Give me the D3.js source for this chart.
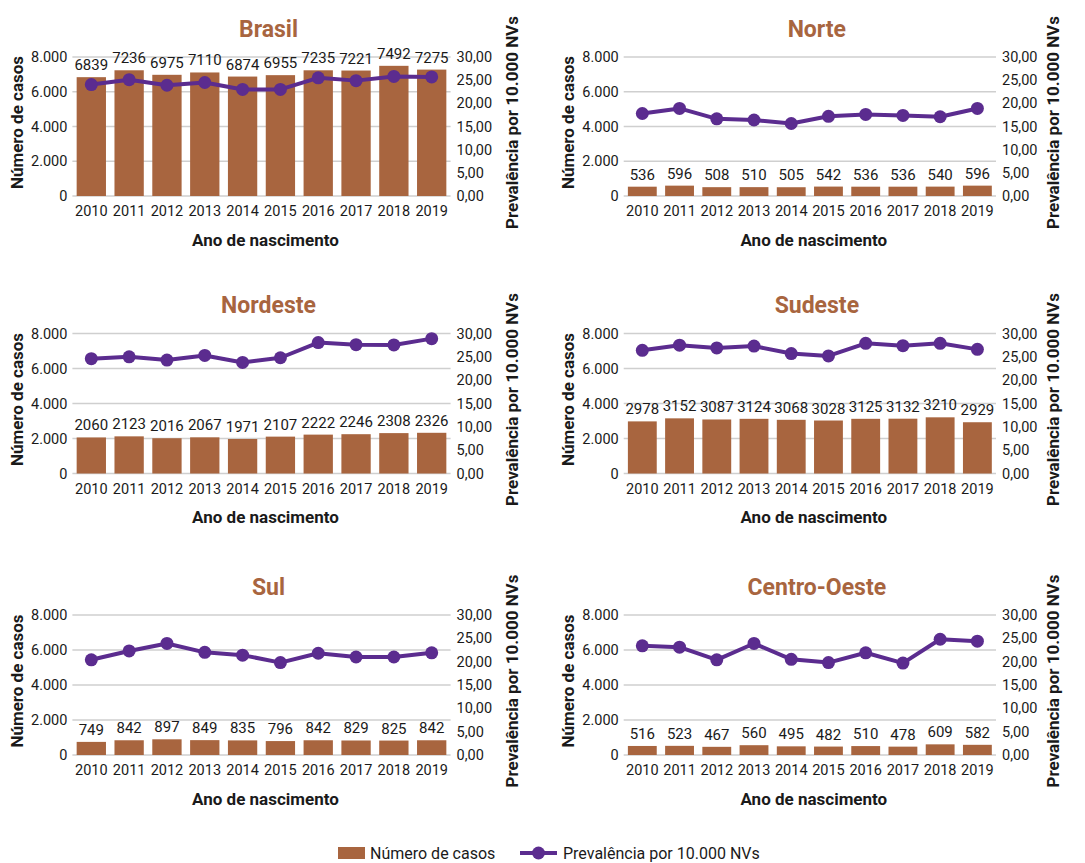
<!DOCTYPE html>
<html><head><meta charset="utf-8">
<script src="https://cdn.jsdelivr.net/npm/d3@7"></script>
<style>
body{margin:0;background:#fff;}
text{font-family:Roboto,"Noto Sans",sans-serif;fill:#1a1a1a;}
</style></head>
<body><svg id="c" width="1085" height="863"></svg>
<script>
const years = ["2010","2011","2012","2013","2014","2015","2016","2017","2018","2019"];
const regions = ["Brasil","Norte","Nordeste","Sudeste","Sul","Centro-Oeste"];
const casesBrasil   = [6839,7236,6975,7110,6874,6955,7235,7221,7492,7275];
const casesNorte    = [536,596,508,510,505,542,536,536,540,596];
const casesNordeste = [2060,2123,2016,2067,1971,2107,2222,2246,2308,2326];
const casesSudeste  = [2978,3152,3087,3124,3068,3028,3125,3132,3210,2929];
const casesSul      = [749,842,897,849,835,796,842,829,825,842];
const casesCO       = [516,523,467,560,495,482,510,478,609,582];
const prevBrasil   = [24.05,25.1,23.9,24.5,23.0,23.0,25.5,24.9,25.8,25.7];
const prevNorte    = [17.8,18.9,16.65,16.4,15.65,17.2,17.6,17.4,17.1,18.9];
const prevNordeste = [24.6,25.0,24.3,25.3,23.8,24.8,28.05,27.6,27.55,28.9];
const prevSudeste  = [26.4,27.5,26.9,27.3,25.7,25.2,27.9,27.4,27.9,26.6];
const prevSul      = [20.4,22.3,23.9,22.0,21.4,19.8,21.8,21.0,21.0,21.9];
const prevCO       = [23.4,23.1,20.4,23.9,20.5,19.8,21.9,19.7,24.8,24.4];
const leftTicks  = [0,2000,4000,6000,8000];
const rightTicks = [0,5,10,15,20,25,30];
const xTitle = "Ano de nascimento";
const yLeftTitle = "Número de casos";
const yRightTitle = "Prevalência por 10.000 NVs";
const legendLabels = ["Número de casos","Prevalência por 10.000 NVs"];

const casesAll = [casesBrasil,casesNorte,casesNordeste,casesSudeste,casesSul,casesCO];
const prevAll  = [prevBrasil,prevNorte,prevNordeste,prevSudeste,prevSul,prevCO];

const BAR = "#a8653f", LINE = "#5b2c8f", GRID = "#cfcfcf";
const loc = d3.formatLocale({decimal:",",thousands:".",grouping:[3],currency:["R$",""]});
const fmtL = loc.format(",.0f"), fmtR = loc.format(",.2f");

const cols = [{l:72.4,r:450.6,rt:61},{l:623.7,r:996,rt:57}];
const rows = [{t:57,b:196},{t:333.5,b:473.5},{t:615,b:755}];

const svg = d3.select("#c");

regions.forEach((name,i)=>{
  const c = cols[i%2], rw = rows[Math.floor(i/2)];
  const g = svg.append("g");
  const x = d3.scaleBand().domain(years).range([c.l,c.r]).paddingInner(0.225).paddingOuter(0.1125);
  const y = d3.scaleLinear().domain([0,8000]).range([rw.b,rw.t]);
  const y2 = d3.scaleLinear().domain([0,30]).range([rw.b,rw.t]);
  g.selectAll(".gl").data(leftTicks).join("line")
    .attr("x1",c.l).attr("x2",c.r).attr("y1",d=>y(d)).attr("y2",d=>y(d))
    .attr("stroke",GRID).attr("stroke-width",1.5);
  const al = g.append("g").attr("transform",`translate(${c.l},0)`)
    .call(d3.axisLeft(y).tickValues(leftTicks).tickFormat(fmtL).tickSize(0).tickPadding(5));
  const ar = g.append("g").attr("transform",`translate(${c.r},0)`)
    .call(d3.axisRight(y2).tickValues(rightTicks).tickFormat(fmtR).tickSize(0).tickPadding(6));
  const ab = g.append("g").attr("transform",`translate(0,${rw.b})`)
    .call(d3.axisBottom(x).tickSize(0).tickPadding(10));
  [al,ar,ab].forEach(a=>{a.select(".domain").remove();a.selectAll("text").attr("font-size",14.5).attr("font-family",null).style("fill","#1a1a1a");});
  const cs = casesAll[i], ps = prevAll[i];
  g.selectAll(".bar").data(years).join("rect")
    .attr("x",d=>x(d)).attr("width",x.bandwidth())
    .attr("y",(d,k)=>y(cs[k])).attr("height",(d,k)=>rw.b-y(cs[k]))
    .attr("fill",BAR);
  g.selectAll(".vl").data(years).join("text")
    .attr("x",d=>x(d)+x.bandwidth()/2).attr("y",(d,k)=>y(cs[k])-7)
    .attr("text-anchor","middle").attr("font-size",15).text((d,k)=>cs[k]);
  const line = d3.line().x((d,k)=>x(years[k])+x.bandwidth()/2).y(d=>y2(d));
  g.append("path").datum(ps).attr("d",line).attr("fill","none")
    .attr("stroke",LINE).attr("stroke-width",4).attr("stroke-linejoin","round");
  g.selectAll(".pt").data(ps).join("circle")
    .attr("cx",(d,k)=>x(years[k])+x.bandwidth()/2).attr("cy",d=>y2(d)).attr("r",6.5).attr("fill",LINE);
  const cx = (c.l+c.r)/2;
  g.append("text").attr("x",cx+7).attr("y",rw.t-28.5).attr("dy","0.35em")
    .attr("text-anchor","middle").attr("font-size",23).attr("font-weight","bold")
    .style("fill",BAR).text(name);
  g.append("text").attr("x",cx+4).attr("y",rw.b+44).attr("dy","0.35em")
    .attr("text-anchor","middle").attr("font-size",17).attr("font-weight","bold").text(xTitle);
  const my = (rw.t+rw.b)/2-4;
  g.append("text").attr("transform",`translate(${c.l-55.5},${my}) rotate(-90)`).attr("dy","0.35em")
    .attr("text-anchor","middle").attr("font-size",17).attr("font-weight","bold").text(yLeftTitle);
  g.append("text").attr("transform",`translate(${c.r+c.rt},${my}) rotate(-90)`).attr("dy","0.35em")
    .attr("text-anchor","middle").attr("font-size",17).attr("font-weight","bold").text(yRightTitle);
});

const lg = svg.append("g");
lg.append("rect").attr("x",338).attr("y",847).attr("width",27).attr("height",12).attr("fill",BAR);
lg.append("text").attr("x",370).attr("y",853).attr("dy","0.35em").attr("font-size",16).text(legendLabels[0]);
lg.append("line").attr("x1",520).attr("x2",557).attr("y1",853).attr("y2",853).attr("stroke",LINE).attr("stroke-width",4);
lg.append("circle").attr("cx",538.5).attr("cy",853).attr("r",6.5).attr("fill",LINE);
lg.append("text").attr("x",563).attr("y",853).attr("dy","0.35em").attr("font-size",16).text(legendLabels[1]);
</script></body></html>
